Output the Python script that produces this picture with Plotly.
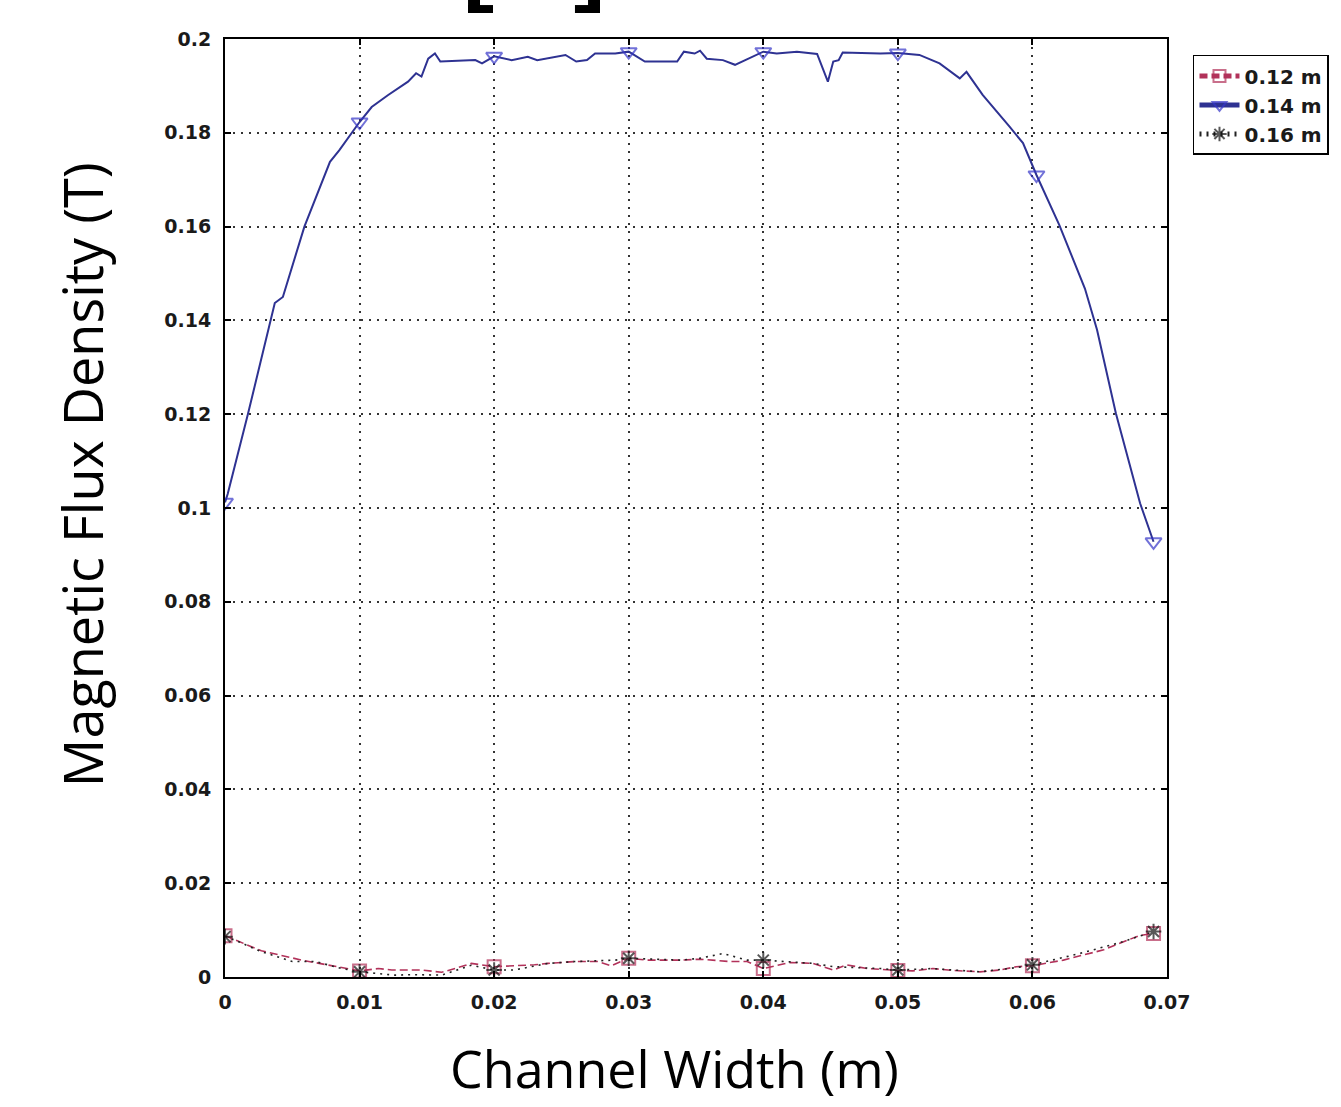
import plotly.graph_objects as go

# ---- data ----
blue_x = [0.0000, 0.0002, 0.0017, 0.0037, 0.0043, 0.0059, 0.0078, 0.0085, 0.0100, 0.0109,
          0.0121, 0.0136, 0.0142, 0.0146, 0.0151, 0.0156, 0.0160, 0.0186, 0.0191, 0.0200,
          0.0213, 0.0225, 0.0232, 0.0253, 0.0261, 0.0269, 0.0275, 0.0290, 0.0300, 0.0312,
          0.0336, 0.0341, 0.0349, 0.0353, 0.0358, 0.0370, 0.0379, 0.0400, 0.0410, 0.0425,
          0.0440, 0.0448, 0.0452, 0.0456, 0.0459, 0.0487, 0.0500, 0.0516, 0.0531, 0.0546,
          0.0551, 0.0563, 0.0583, 0.0593, 0.0603, 0.0620, 0.0639, 0.0648, 0.0662, 0.0680,
          0.0690]
blue_y = [0.1012, 0.1030, 0.1200, 0.1437, 0.1450, 0.1600, 0.1738, 0.1763, 0.1823, 0.1855,
          0.1880, 0.1909, 0.1927, 0.1920, 0.1958, 0.1969, 0.1952, 0.1955, 0.1948, 0.1963,
          0.1955, 0.1962, 0.1955, 0.1966, 0.1952, 0.1955, 0.1969, 0.1969, 0.1973, 0.1952,
          0.1952, 0.1973, 0.1969, 0.1975, 0.1958, 0.1955, 0.1945, 0.1973, 0.1969, 0.1973,
          0.1968, 0.1909, 0.1952, 0.1955, 0.1971, 0.1969, 0.1970, 0.1966, 0.1948, 0.1916,
          0.1930, 0.1881, 0.1813, 0.1778, 0.1710, 0.1603, 0.1468, 0.1380, 0.1202, 0.1010,
          0.0928]
blue_markers = [0.0000, 0.0100, 0.0200, 0.0300, 0.0400, 0.0500, 0.0603, 0.0690]

red_x = [0.0000, 0.0027, 0.0057, 0.0077, 0.0087, 0.0100, 0.0114, 0.0124, 0.0146, 0.0161,
         0.0171, 0.0183, 0.0200, 0.0230, 0.0240, 0.0260, 0.0277, 0.0287, 0.0300, 0.0314,
         0.0339, 0.0353, 0.0375, 0.0388, 0.0400, 0.0420, 0.0437, 0.0452, 0.0462, 0.0477,
         0.0500, 0.0511, 0.0526, 0.0541, 0.0561, 0.0576, 0.0588, 0.0600, 0.0623, 0.0653,
         0.0679, 0.0690]
red_y = [0.0088, 0.0056, 0.0036, 0.0026, 0.0020, 0.0013, 0.0018, 0.0015, 0.0015, 0.0010,
         0.0018, 0.0029, 0.0022, 0.0026, 0.0029, 0.0033, 0.0033, 0.0024, 0.0040, 0.0036,
         0.0036, 0.0038, 0.0033, 0.0033, 0.0018, 0.0031, 0.0029, 0.0015, 0.0026, 0.0018,
         0.0014, 0.0013, 0.0018, 0.0014, 0.0011, 0.0015, 0.0022, 0.0024, 0.0036, 0.0058,
         0.0088, 0.0093]
red_markers = [0.0000, 0.0100, 0.0200, 0.0300, 0.0400, 0.0500, 0.0600, 0.0690]

black_x = [0.0000, 0.0007, 0.0027, 0.0050, 0.0067, 0.0087, 0.0100, 0.0126, 0.0140, 0.0161,
           0.0183, 0.0200, 0.0215, 0.0240, 0.0260, 0.0290, 0.0300, 0.0339, 0.0353, 0.0370,
           0.0388, 0.0400, 0.0437, 0.0452, 0.0487, 0.0500, 0.0526, 0.0561, 0.0588, 0.0600,
           0.0635, 0.0667, 0.0690]
black_y = [0.0086, 0.0079, 0.0054, 0.0033, 0.0033, 0.0018, 0.0011, 0.0004, 0.0005, 0.0004,
           0.0025, 0.0015, 0.0015, 0.0029, 0.0033, 0.0036, 0.0040, 0.0036, 0.0040, 0.0050,
           0.0036, 0.0036, 0.0029, 0.0022, 0.0018, 0.0015, 0.0018, 0.0011, 0.0020, 0.0026,
           0.0050, 0.0075, 0.0097]
black_markers = [0.0000, 0.0100, 0.0200, 0.0300, 0.0400, 0.0500, 0.0600, 0.0690]

series_names = ["0.12 m", "0.14 m", "0.16 m"]
x_ticks = [0, 0.01, 0.02, 0.03, 0.04, 0.05, 0.06, 0.07]
y_ticks = [0, 0.02, 0.04, 0.06, 0.08, 0.1, 0.12, 0.14, 0.16, 0.18, 0.2]
x_title = "Channel Width (m)"
y_title = "Magnetic Flux Density (T)"


def sizes(xs, marks, s):
    return [s if any(abs(v - m) < 1e-9 for m in marks) else 0 for v in xs]


fig = go.Figure()
fig.add_trace(go.Scatter(
    x=red_x, y=red_y, name=series_names[0], mode="lines+markers",
    line=dict(color="#b2325a", width=1.6, dash="8px,4px"),
    marker=dict(symbol="square-open", size=sizes(red_x, red_markers, 13),
                color="#b2325a", line=dict(width=2, color="#b2325a"))))
fig.add_trace(go.Scatter(
    x=blue_x, y=blue_y, name=series_names[1], mode="lines+markers",
    line=dict(color="#2e3292", width=2),
    marker=dict(symbol="triangle-down-open", size=sizes(blue_x, blue_markers, 14),
                color="#3535c8", line=dict(width=2, color="#3535c8"))))
fig.add_trace(go.Scatter(
    x=black_x, y=black_y, name=series_names[2], mode="lines+markers",
    line=dict(color="#222222", width=1.6, dash="2px,5px"),
    marker=dict(symbol="asterisk-open", size=sizes(black_x, black_markers, 13),
                color="#111111", line=dict(width=2, color="#111111"))))

tickfont = dict(family="DejaVu Sans", size=19, color="#1a1a1a", weight="bold")
axis_common = dict(
    showline=True, linecolor="black", linewidth=2, mirror="ticks",
    ticks="inside", ticklen=6, tickwidth=1.5, tickcolor="black",
    showgrid=True, gridcolor="#333333", gridwidth=1.5, griddash="2px,6px",
    zeroline=False, tickfont=tickfont,
)
fig.update_xaxes(range=[0, 0.07], tickvals=x_ticks, ticktext=[f"{v:g}" for v in x_ticks],
                 ticklabelstandoff=7, **axis_common)
fig.update_yaxes(range=[0, 0.2], tickvals=y_ticks, ticktext=[f"{v:g}" for v in y_ticks],
                 ticklabelstandoff=8, **axis_common)

fig.add_annotation(text=x_title, xref="paper", yref="paper", x=0.4777, y=-0.0970,
                   xanchor="center", yanchor="middle", showarrow=False,
                   font=dict(family="Open Sans", size=52, color="black"))
fig.add_annotation(text=y_title, xref="paper", yref="paper", x=-0.1518, y=0.535,
                   xanchor="center", yanchor="middle", showarrow=False, textangle=-90,
                   font=dict(family="Open Sans", size=54, color="black"))

# bracket fragments at top edge
for (x0, x1, y0, y1) in [(0.258, 0.2707, 1.0277, 1.045), (0.258, 0.2845, 1.0277, 1.0362),
                         (0.3854, 0.3981, 1.0277, 1.045), (0.3715, 0.3981, 1.0277, 1.0362)]:
    fig.add_shape(type="rect", xref="paper", yref="paper", x0=x0, x1=x1, y0=y0, y1=y1,
                  fillcolor="black", line=dict(width=0))

fig.update_layout(
    width=1341, height=1107,
    margin=dict(l=225, r=174, t=39, b=130, autoexpand=False),
    paper_bgcolor="white", plot_bgcolor="white",
    showlegend=True,
    legend=dict(x=1.0276, y=0.983, xanchor="left", yanchor="top",
                bordercolor="black", borderwidth=1.5, bgcolor="white",
                font=dict(family="DejaVu Sans", size=20, color="#1a1a1a", weight="bold"),
                itemsizing="constant", itemwidth=40, tracegroupgap=0),
)

fig.write_html("out.html")
